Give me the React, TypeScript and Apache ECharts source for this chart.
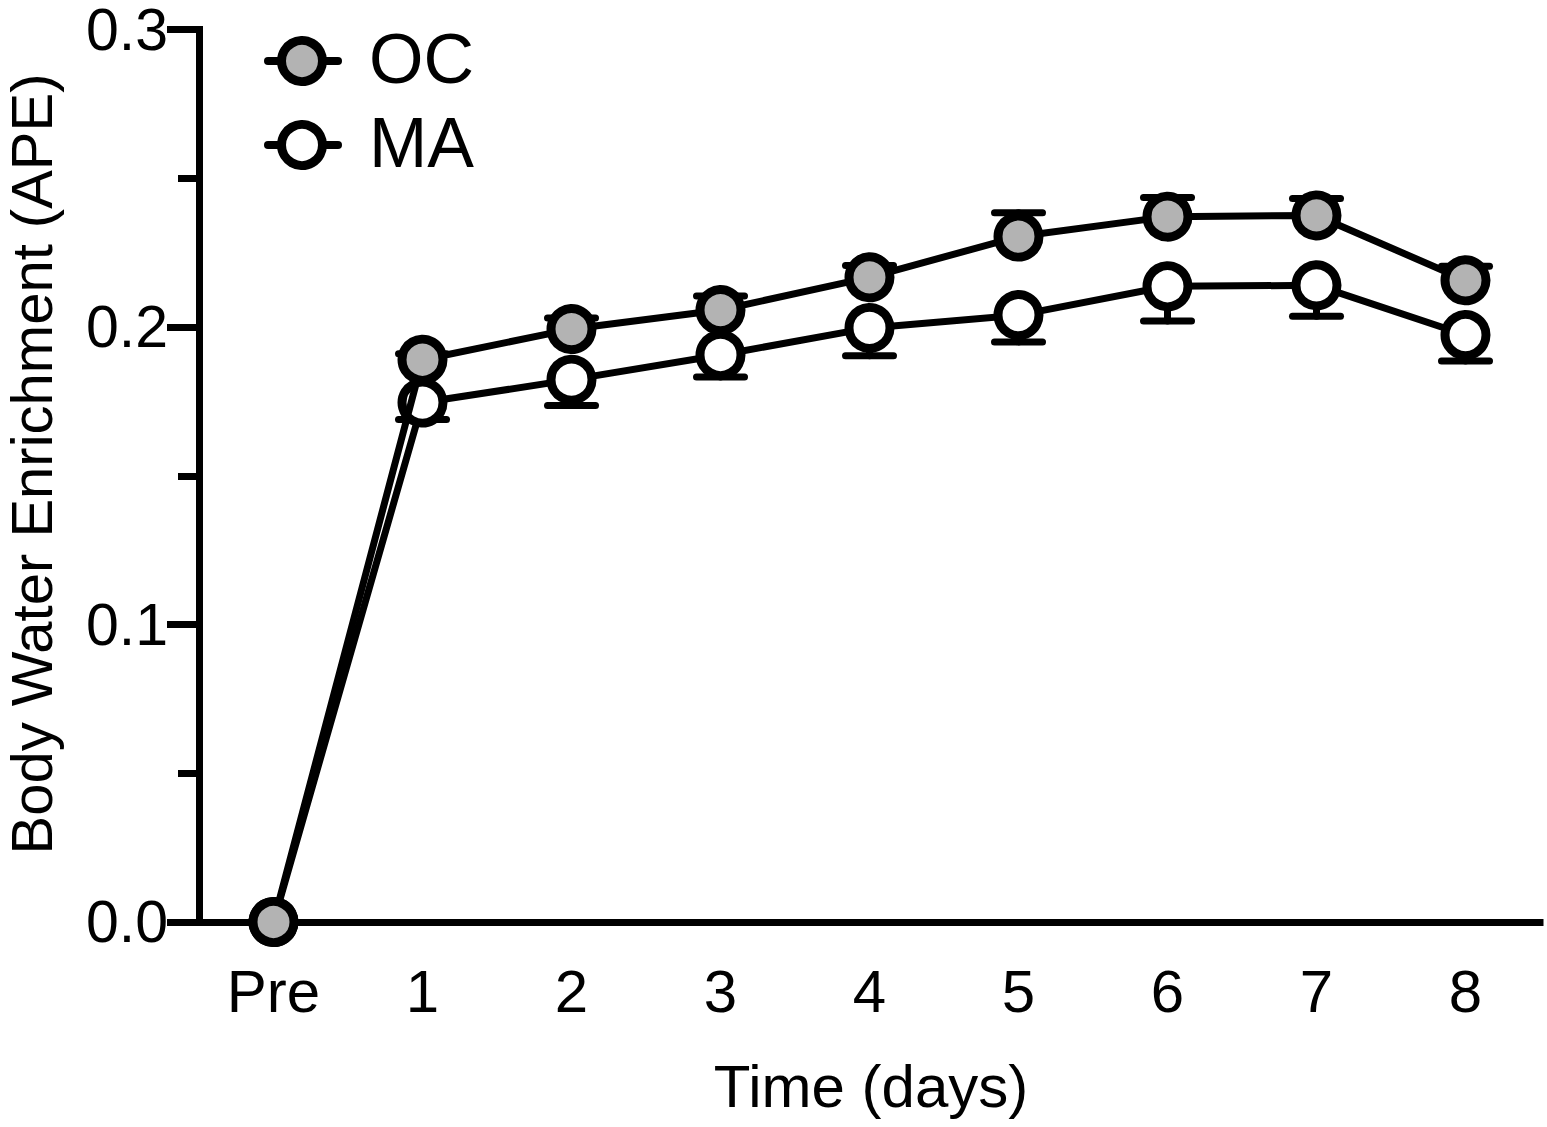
import React, { useEffect, useRef } from "react";
import * as echarts from "echarts";

const categories = ["Pre", "1", "2", "3", "4", "5", "6", "7", "8"];
const ocMean = [0, 0.189, 0.1993, 0.2057, 0.2167, 0.2304, 0.2371, 0.2375, 0.2157];
const ocErr = [0, 0.002, 0.0037, 0.0047, 0.004, 0.008, 0.0064, 0.0057, 0.0047];
const maMean = [0, 0.1746, 0.1823, 0.1906, 0.1997, 0.204, 0.2137, 0.214, 0.1973];
const maErr = [0, 0.0057, 0.0087, 0.0074, 0.0094, 0.009, 0.0117, 0.0104, 0.0087];
const yTicks = [0, 0.1, 0.2, 0.3];
const yLabels = ["0.0", "0.1", "0.2", "0.3"];

const FONT = "Liberation Sans, Arial, Helvetica, sans-serif";

function errData(mean: number[], err: number[], dir: number) {
  return mean.map((m, i) => [i, m, err[i], dir]);
}

function renderErr(params: any, api: any) {
  const x = api.value(0);
  const m = api.value(1);
  const e = api.value(2);
  const d = api.value(3);
  if (!e) return null;
  const p0 = api.coord([x, m]);
  const p1 = api.coord([x, m + d * e]);
  const half = 24;
  const style = { stroke: "#000", lineWidth: 7, lineCap: "round" };
  return {
    type: "group",
    children: [
      { type: "line", shape: { x1: p0[0], y1: p0[1], x2: p1[0], y2: p1[1] }, style },
      { type: "line", shape: { x1: p1[0] - half, y1: p1[1], x2: p1[0] + half, y2: p1[1] }, style },
    ],
  };
}

export default function App() {
  const ref = useRef<HTMLDivElement>(null);
  useEffect(() => {
    document.body.style.margin = "0";
    document.body.style.overflow = "hidden";
    const chart = echarts.init(ref.current!, undefined, { renderer: "svg" });
    const legendItem = (y: number, fill: string, name: string) => [
      {
        type: "line",
        shape: { x1: 268, y1: y, x2: 338, y2: y },
        style: { stroke: "#000", lineWidth: 8, lineCap: "round" },
        z: 10,
      },
      {
        type: "circle",
        shape: { cx: 302, cy: y, r: 20.5 },
        style: { fill, stroke: "#000", lineWidth: 9 },
        z: 11,
      },
      {
        type: "text",
        x: 369,
        y: y - 2,
        style: {
          text: name,
          fontSize: 70,
          lineHeight: 72,
          fontFamily: FONT,
          fill: "#000",
          align: "left",
          verticalAlign: "middle",
        },
        z: 11,
      },
    ];
    chart.setOption({
      animation: false,
      backgroundColor: "#fff",
      grid: { left: 199, right: 7, top: 25, bottom: 205, containLabel: false },
      xAxis: {
        type: "category",
        data: categories,
        boundaryGap: true,
        axisLine: { lineStyle: { color: "#000", width: 7, cap: "square" } },
        axisTick: { alignWithLabel: true, length: 31, lineStyle: { color: "#000", width: 7 } },
        axisLabel: { color: "#000", fontSize: 60, fontFamily: FONT, margin: 39 },
        splitLine: { show: false },
      },
      yAxis: {
        type: "value",
        min: 0,
        max: 0.3,
        interval: 0.1,
        axisLine: { show: true, lineStyle: { color: "#000", width: 7, cap: "square" } },
        axisTick: { show: true, length: 32, lineStyle: { color: "#000", width: 7 } },
        minorTick: { show: true, splitNumber: 2, length: 21, lineStyle: { color: "#000", width: 7 } },
        axisLabel: {
          color: "#000",
          fontSize: 59,
          lineHeight: 46,
          fontFamily: FONT,
          margin: 31,
          formatter: (v: number) => {
            const i = yTicks.findIndex((t) => Math.abs(t - v) < 1e-9);
            return i >= 0 ? yLabels[i] : "";
          },
        },
        splitLine: { show: false },
      },
      series: [
        {
          type: "custom",
          name: "MA err",
          data: errData(maMean, maErr, -1),
          renderItem: renderErr,
          encode: { x: 0, y: 1 },
          z: 1,
          silent: true,
        },
        {
          type: "line",
          name: "MA",
          data: maMean,
          symbol: "circle",
          symbolSize: 41,
          lineStyle: { color: "#000", width: 7 },
          itemStyle: { color: "#fff", borderColor: "#000", borderWidth: 9 },
          z: 2,
        },
        {
          type: "custom",
          name: "OC err",
          data: errData(ocMean, ocErr, 1),
          renderItem: renderErr,
          encode: { x: 0, y: 1 },
          z: 3,
          silent: true,
        },
        {
          type: "line",
          name: "OC",
          data: ocMean,
          symbol: "circle",
          symbolSize: 41,
          lineStyle: { color: "#000", width: 7 },
          itemStyle: { color: "#b3b3b3", borderColor: "#000", borderWidth: 9 },
          z: 4,
        },
      ],
      graphic: [
        ...legendItem(61, "#b3b3b3", "OC"),
        ...legendItem(145, "#fff", "MA"),
        {
          type: "text",
          x: 31,
          y: 464,
          rotation: Math.PI / 2,
          style: {
            text: "Body Water Enrichment (APE)",
            fontSize: 58,
            lineHeight: 50,
            fontFamily: FONT,
            fill: "#000",
            align: "center",
            verticalAlign: "middle",
          },
        },
        {
          type: "text",
          x: 871,
          y: 1086,
          style: {
            text: "Time (days)",
            fontSize: 60,
            fontFamily: FONT,
            fill: "#000",
            align: "center",
            verticalAlign: "middle",
          },
        },
      ],
    });
    return () => chart.dispose();
  }, []);
  return <div ref={ref} style={{ width: 1547, height: 1127 }} />;
}
